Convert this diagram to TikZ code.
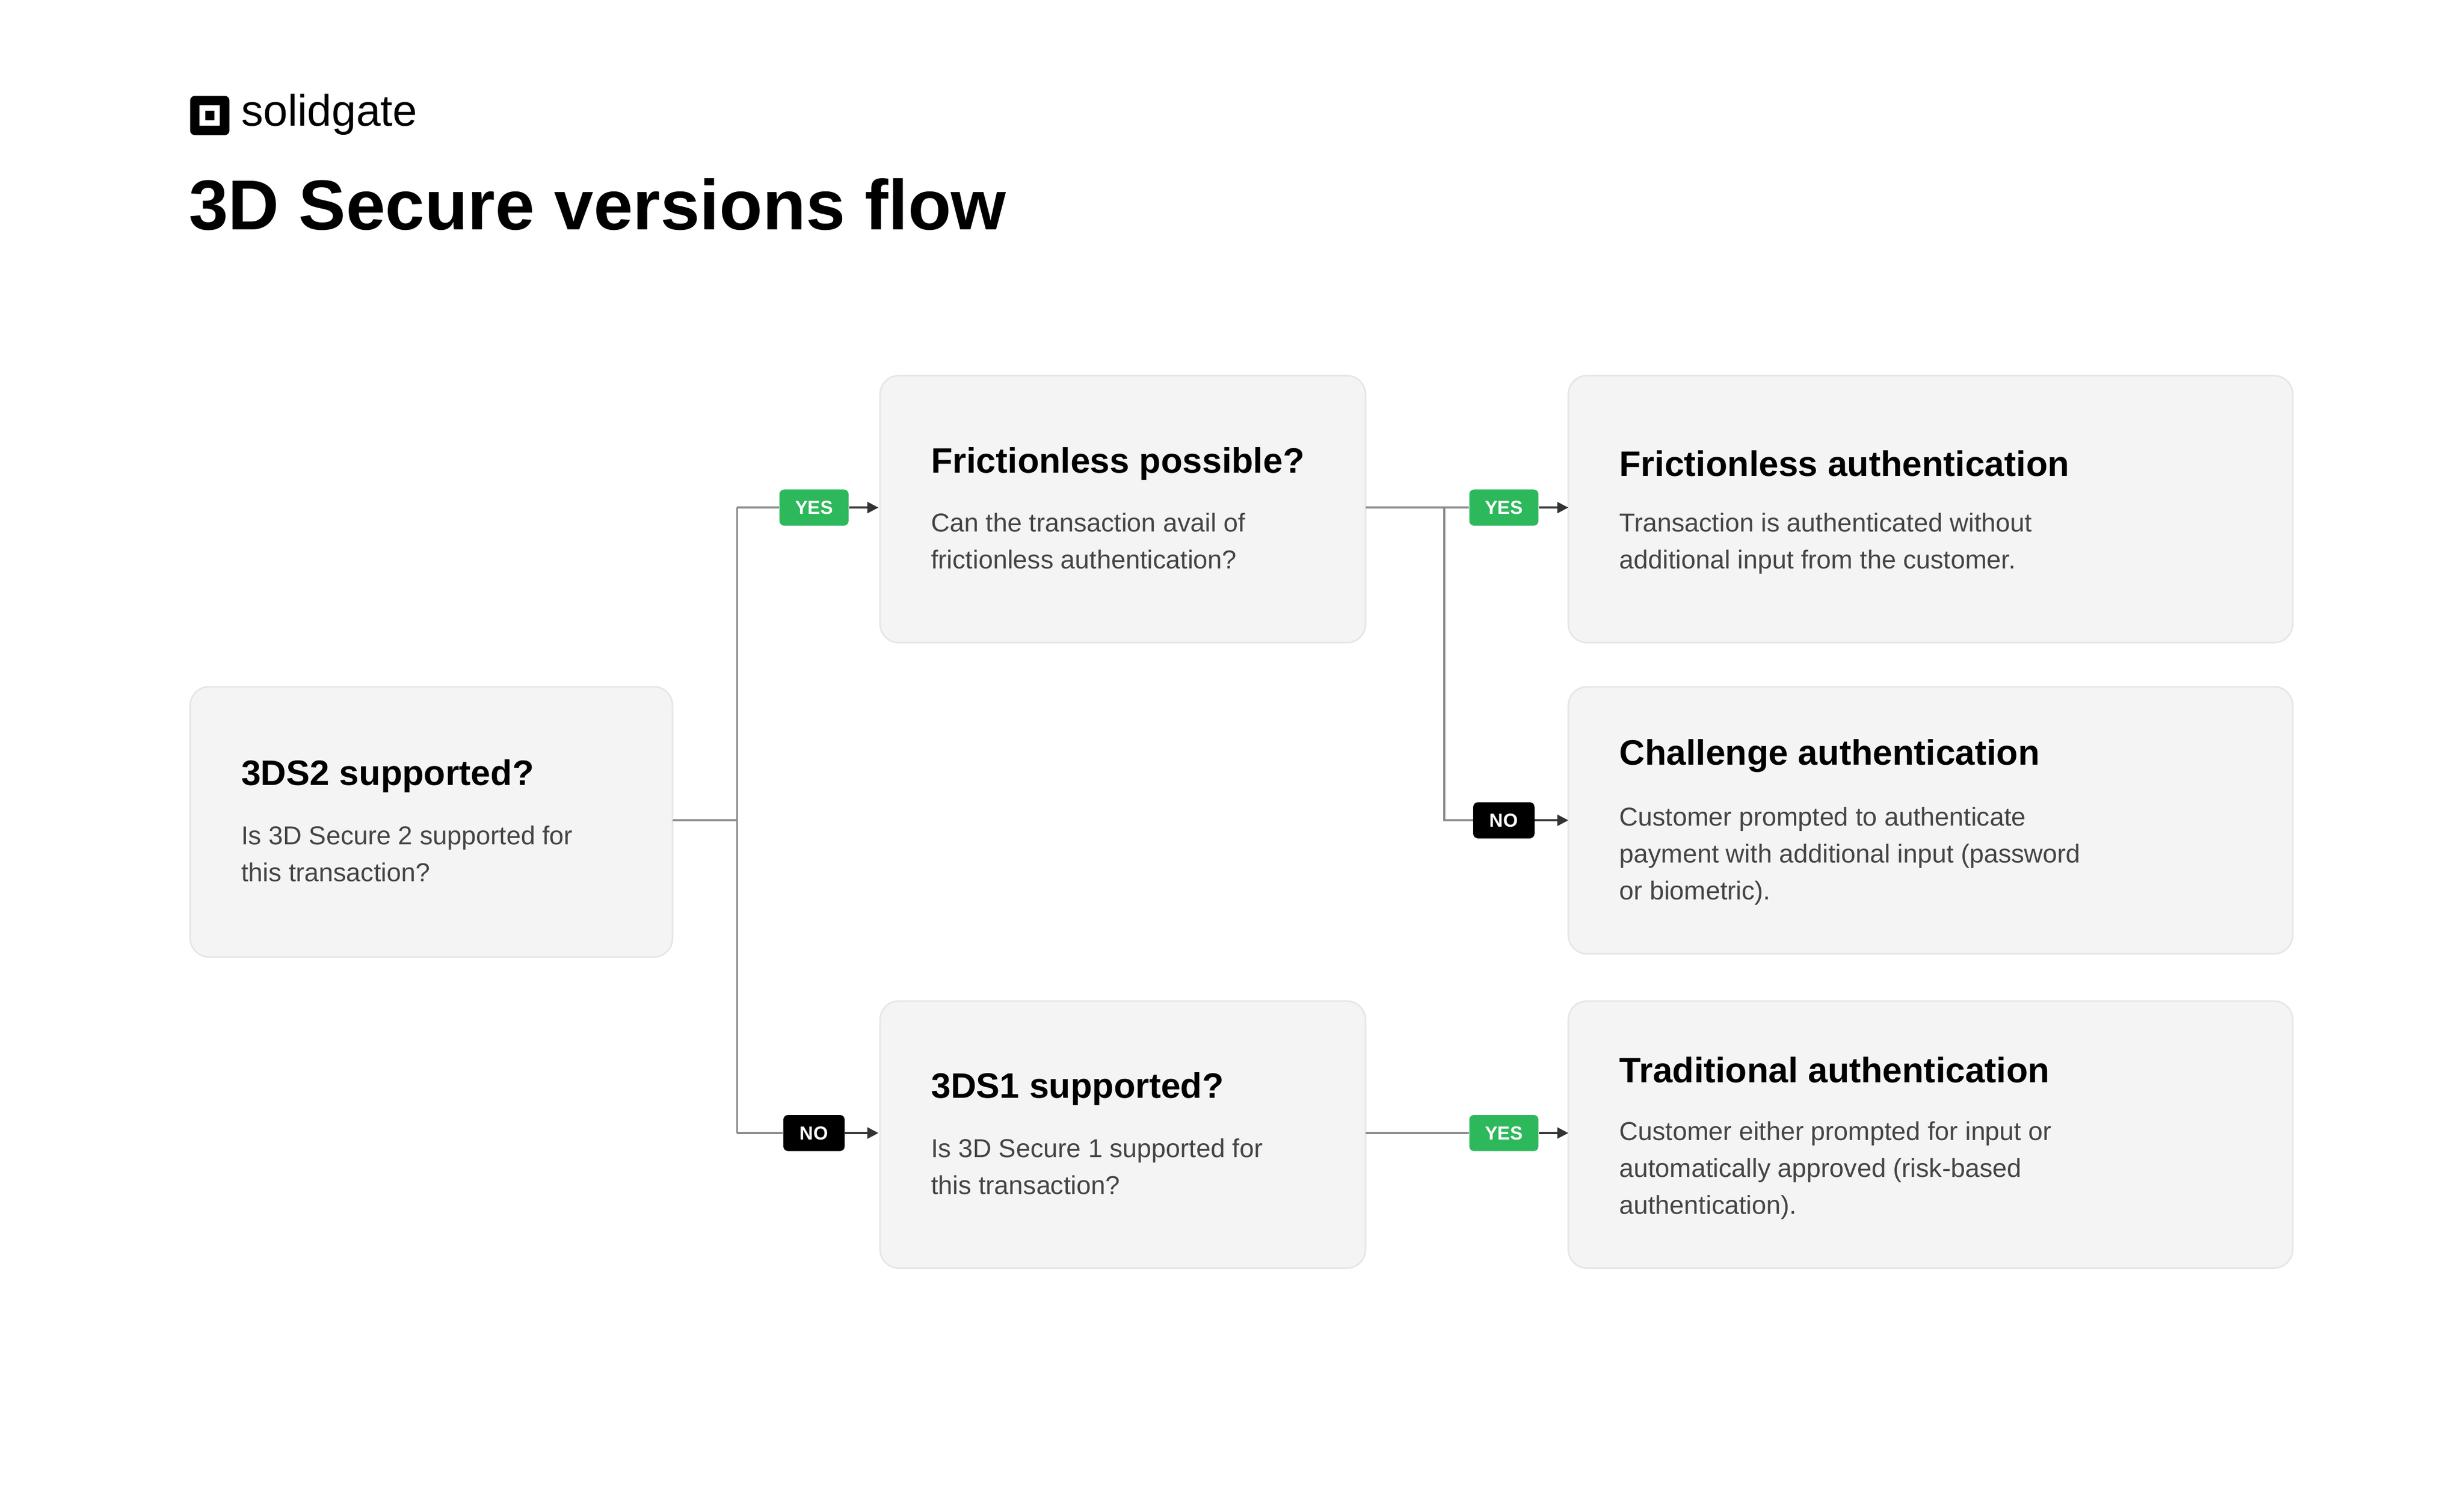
\documentclass[tikz,border=0pt]{standalone}
\usepackage{fontspec}
\setmainfont{Liberation Sans}
\usetikzlibrary{arrows.meta,calc}
\definecolor{boxfill}{HTML}{F4F4F4}
\definecolor{boxline}{HTML}{E6E6E6}
\definecolor{yesgreen}{HTML}{2EB85C}
\definecolor{bodytxt}{HTML}{444444}
\definecolor{wire}{HTML}{8A8A8A}
\begin{document}
\begin{tikzpicture}[x=1pt,y=-1pt,
  card/.style={draw=boxline,fill=boxfill,rounded corners=12pt,line width=1pt},
  ttl/.style={anchor=west,font=\fontsize{22.5}{27}\selectfont\bfseries},
  bdy/.style={anchor=north west,align=left,text=bodytxt,font=\fontsize{16.5}{23.5}\selectfont},
  yes/.style={fill=yesgreen,text=white,rounded corners=3pt,font=\fontsize{12}{12}\selectfont\bfseries,minimum width=44pt,minimum height=23pt,inner sep=0pt},
  no/.style={fill=black,text=white,rounded corners=3pt,font=\fontsize{12}{12}\selectfont\bfseries,minimum width=39pt,minimum height=23pt,inner sep=0pt},
  wl/.style={draw=wire,line width=1.2pt},
  arr/.style={draw=black!80,line width=1.2pt,-{Triangle[length=7pt,width=7pt]}}]
\useasboundingbox (0,0) rectangle (1568,960);
\fill[rounded corners=3pt] (121,61) rectangle (146,86);
\fill[white] (127,67) rectangle (140,80);
\fill (130.5,70.5) rectangle (136.5,76.5);
\node[anchor=west,font=\fontsize{28}{30}\selectfont] (brand) at (150,73) {solidgate};
\node[anchor=west,font=\fontsize{45}{50}\selectfont\bfseries,inner sep=0pt] (title) at (120,130) {3D Secure versions flow};
% cards
\path[card] (121,437) rectangle (428,609);
\path[card] (560,239) rectangle (869,409);
\path[card] (560,637) rectangle (869,807);
\path[card] (998,239) rectangle (1459,409);
\path[card] (998,437) rectangle (1459,607);
\path[card] (998,637) rectangle (1459,807);
\coordinate (Aout) at (428,522);
\coordinate (Bin) at (559,323); \coordinate (Bout) at (869,323);
\coordinate (Cin) at (559,721); \coordinate (Cout) at (869,721);
\coordinate (Din) at (998,323); \coordinate (Ein) at (998,522); \coordinate (Fin) at (998,721);
\node[ttl] (At) at (150,494) {3DS2 supported?};
\node[bdy] (Ab) at (150,522) {Is 3D Secure 2 supported for\\this transaction?};
\node[ttl] (Bt) at (589,295) {Frictionless possible?};
\node[bdy] (Bb) at (589,323) {Can the transaction avail of\\frictionless authentication?};
\node[ttl] (Ct) at (589,693) {3DS1 supported?};
\node[bdy] (Cb) at (589,721) {Is 3D Secure 1 supported for\\this transaction?};
\node[ttl] (Dt) at (1027,295) {Frictionless authentication};
\node[bdy] (Db) at (1027,323) {Transaction is authenticated without\\additional input from the customer.};
\node[ttl] (Et) at (1027,481) {Challenge authentication};
\node[bdy] (Eb) at (1027,510) {Customer prompted to authenticate\\payment with additional input (password\\or biometric).};
\node[ttl] (Ft) at (1027,681) {Traditional authentication};
\node[bdy] (Fb) at (1027,710) {Customer either prompted for input or\\automatically approved (risk-based\\authentication).};
% wires
\draw[wl] (Aout) -- (469,522);
\draw[wl] (469,323) -- (469,721);
\node[yes] (y1) at (518,323) {YES};
\node[no] (n1) at (518,721) {NO};
\draw[wl] (469,323) -- (y1.west);
\draw[wl] (469,721) -- (n1.west);
\draw[arr] (y1.east) -- (Bin);
\draw[arr] (n1.east) -- (Cin);
\node[yes] (y2) at (957,323) {YES};
\node[no] (n2) at (957,522) {NO};
\draw[wl] (Bout) -- (y2.west);
\draw[wl] (919,323) -- (919,522) -- (n2.west);
\draw[arr] (y2.east) -- (Din);
\draw[arr] (n2.east) -- (Ein);
\node[yes] (y3) at (957,721) {YES};
\draw[wl] (Cout) -- (y3.west);
\draw[arr] (y3.east) -- (Fin);
\end{tikzpicture}
\end{document}
